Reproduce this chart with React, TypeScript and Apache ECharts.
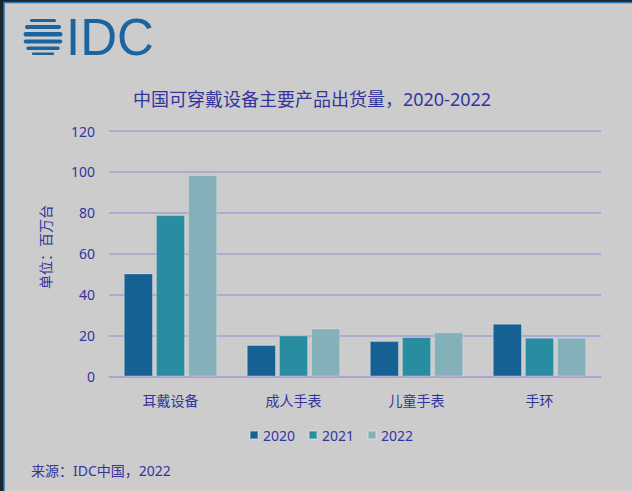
import React, { useEffect, useRef } from "react";
import * as echarts from "echarts";

const categories = ["耳戴设备", "成人手表", "儿童手表", "手环"];
const seriesNames = ["2020", "2021", "2022"];
const values2020 = [50.4, 15.4, 17.3, 25.8];
const values2021 = [78.9, 20.1, 19.3, 19.0];
const values2022 = [98.5, 23.5, 21.6, 19.0];
const colors = ["#166194", "#288da0", "#83b0b9"];

const TEXT = "#34349c";
const FONT = "'Noto Sans', 'Noto Sans CJK SC', sans-serif";

function globeStripes() {
  const cx = 43;
  const cy = 36.5;
  const r = 19.5;
  const rows = [
    [-17.5, -14.5],
    [-11.5, -7.5],
    [-4.5, 0],
    [3, 7],
    [10, 13.5],
    [16, 18.5],
  ];
  return rows.map(([a, b], i) => {
    const m = Math.min(Math.abs(a), Math.abs(b));
    const half = Math.sqrt(Math.max(r * r - m * m, 0));
    return {
      type: "rect",
      shape: { x: cx - half, y: cy + a, width: half * 2, height: b - a, r: (b - a) / 2 },
      style: { fill: "#1a64a0" },
      z: 10,
      key: "s" + i,
    };
  });
}

export default function App() {
  const ref = useRef<HTMLDivElement>(null);
  useEffect(() => {
    document.body.style.margin = "0";
    const chart = echarts.init(ref.current!, null, { renderer: "svg" });
    const data = [values2020, values2021, values2022];
    chart.setOption({
      animation: false,
      backgroundColor: "#1b2730",
      textStyle: { fontFamily: FONT },
      graphic: [
        {
          type: "rect",
          shape: { x: 4, y: 2.5, width: 630, height: 492 },
          style: { fill: "#cccccc", stroke: "#2a72b0", lineWidth: 1.5 },
          z: -10,
          silent: true,
        },
        ...globeStripes(),
        {
          type: "text",
          x: 66,
          y: 37,
          style: {
            text: "IDC",
            font: "normal 51px 'Liberation Sans', Arial, sans-serif",
            fill: "#1a64a0",
            verticalAlign: "middle",
          },
          z: 10,
        },
        {
          type: "text",
          x: 45,
          y: 247,
          rotation: Math.PI / 2,
          style: {
            text: "单位：百万台",
            font: `normal 14px ${FONT}`,
            fill: TEXT,
            align: "center",
            verticalAlign: "middle",
          },
          z: 10,
        },
        {
          type: "text",
          x: 31,
          y: 470,
          style: {
            text: "来源：IDC中国，2022",
            font: `normal 14px ${FONT}`,
            fill: TEXT,
            verticalAlign: "middle",
          },
          z: 10,
        },
      ],
      title: {
        text: "中国可穿戴设备主要产品出货量，2020-2022",
        left: 307,
        textAlign: "center",
        top: 85,
        textStyle: { fontSize: 18, fontWeight: "normal", color: TEXT, fontFamily: FONT },
      },
      legend: {
        left: 244,
        top: 423,
        itemWidth: 8,
        itemHeight: 8,
        itemGap: 13,
        icon: "rect",
        textStyle: { fontSize: 14, color: TEXT, fontFamily: FONT },
        data: seriesNames,
      },
      grid: { left: 109, right: 31, top: 131, bottom: 114.5 },
      xAxis: {
        type: "category",
        data: categories,
        axisLine: { show: true, lineStyle: { color: "#a5a1d6", width: 1.5 } },
        axisTick: { show: false },
        axisLabel: { fontSize: 14, color: TEXT, margin: 17, fontFamily: FONT },
      },
      yAxis: {
        type: "value",
        min: 0,
        max: 120,
        interval: 20,
        axisLine: { show: false },
        axisTick: { show: false },
        axisLabel: { fontSize: 14, color: TEXT, margin: 14, fontFamily: FONT },
        splitLine: { lineStyle: { color: "#a5a1d6", width: 1.5 } },
      },
      series: seriesNames.map((n, i) => ({
        name: n,
        type: "bar",
        data: data[i],
        barGap: "10%",
        barCategoryGap: "24%",
        itemStyle: {
          color: colors[i],
          borderColor: "rgba(235,235,235,0.35)",
          borderWidth: 1,
        },
      })),
    });
    return () => chart.dispose();
  }, []);
  return <div ref={ref} style={{ width: 632, height: 491 }} />;
}
